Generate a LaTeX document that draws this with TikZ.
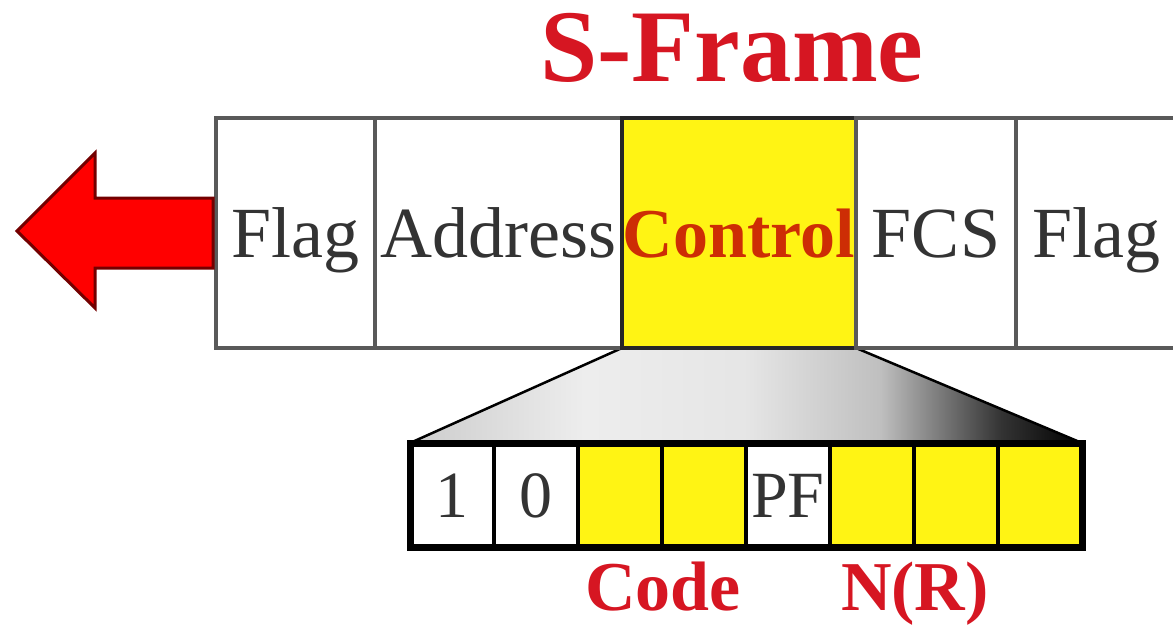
\documentclass[tikz,border=0pt]{standalone}
\usepackage{fontspec}
\setmainfont{Liberation Serif}
\usetikzlibrary{positioning,backgrounds}
\definecolor{fyellow}{RGB}{255,244,20}
\definecolor{fred}{RGB}{214,22,34}
\definecolor{ctrltext}{RGB}{205,45,5}
\pgfdeclarehorizontalshading{fanshade}{100bp}{color(0bp)=(gray!40); color(25bp)=(gray!40);
  color(38bp)=(gray!14); color(50bp)=(gray!20); color(60bp)=(gray!50); color(69bp)=(black!80);
  color(75bp)=(black); color(100bp)=(black)}

\begin{document}
\begin{tikzpicture}[x=1pt, y=-1pt,
  cell/.style={draw=black!65,line width=4pt,minimum height=230pt,inner sep=0pt,outer sep=0pt,
    font=\fontsize{72}{80}\selectfont,text=black!80,text height=48pt,text depth=0pt},
  ctrlcell/.style={cell,fill=fyellow,draw=black!85,text=ctrltext,font=\fontsize{70}{78}\selectfont\bfseries},
  bit/.style={draw=black,line width=4pt,minimum width=84pt,minimum height=104pt,inner sep=0pt,outer sep=0pt,
    fill=white,font=\fontsize{66}{70}\selectfont,text=black!80,text height=45pt,text depth=0pt},
  ybit/.style={bit,fill=fyellow},
  lbl/.style={text=fred,font=\fontsize{70}{74}\selectfont\bfseries,inner sep=0pt,text height=46pt,text depth=0pt},
  ttl/.style={text=fred,font=\fontsize{103}{110}\selectfont\bfseries,inner sep=0pt,text height=68pt,text depth=0pt},
  bigarrow/.style={fill=red,draw=red!45!black,line width=3pt,line join=miter}]
 \useasboundingbox (0,0) rectangle (1173,624);
 % the frame
 \node[cell, minimum width=159pt, anchor=north west] (flag1) at (216,118) {Flag};
 \node[cell, minimum width=247pt, right=0pt of flag1] (addr) {Address};
 \node[ctrlcell, minimum width=234pt, right=0pt of addr] (ctrl) {Control};
 \node[cell, minimum width=160pt, right=0pt of ctrl] (fcs) {FCS};
 \node[cell, minimum width=160pt, right=0pt of fcs] (flag2) {Flag};
 \node[ttl, above=36pt of ctrl, xshift=-7pt] (title) {S-Frame};
 \draw[bigarrow] ([shift={(-3,-35)}]flag1.west) -- ++(-118,0) -- ++(0,-45) -- ++(-78,78)
   -- ++(78,77) -- ++(0,-40) -- ++(118,0) -- cycle;
 % control field bits
 \node[bit, anchor=north west] (b1) at (410,443) {1};
 \node[bit, right=0pt of b1] (b2) {0};
 \node[ybit, right=0pt of b2] (b3) {};
 \node[ybit, right=0pt of b3] (b4) {};
 \node[bit, right=0pt of b4] (b5) {PF};
 \node[ybit, right=0pt of b5] (b6) {};
 \node[ybit, right=0pt of b6] (b7) {};
 \node[ybit, right=0pt of b7] (b8) {};
 \draw[line width=7pt] (b1.north west) rectangle (b8.south east);
 \begin{scope}[on background layer]
  \shade[shading=fanshade] (ctrl.south west) -- (ctrl.south east) -- (b8.north east) -- (b1.north west) -- cycle;
  \draw[line width=2.5pt] (ctrl.south west) -- (b1.north west);
  \draw[line width=2.5pt] (ctrl.south east) -- (b8.north east);
 \end{scope}
 \node[lbl, below=17pt of b4.south west, xshift=1pt] (code) {Code};
 \node[lbl, below=17pt of b6.south east, xshift=1pt] (nr) {N(R)};
\end{tikzpicture}
\end{document}
